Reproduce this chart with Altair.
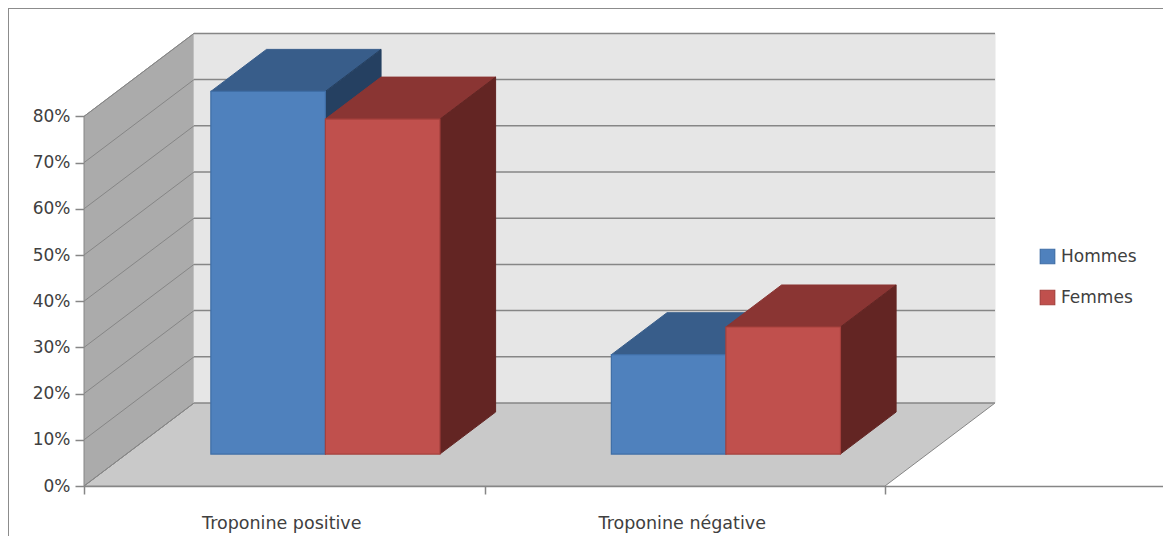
import altair as alt
import pandas as pd

categories = ["Troponine positive", "Troponine négative"]
series = ["Hommes", "Femmes"]
hommes = [78.5, 21.5]
femmes = [72.5, 27.5]
value_ticks = [0, 10, 20, 30, 40, 50, 60, 70, 80]
fills = ["#4f81bd", "#c0504d"]
strokes = ["#3f6ea6", "#a5403d"]
top_fills = ["#385d8a", "#8a3533"]
side_fills = ["#254061", "#632523"]

PX_PER_CAT = 400.5
PX_PER_PCT = 4.62
W, H = 1079, 478
BOTTOM = 50
DEPTH_X = 110 / PX_PER_CAT
DEPTH_Y = 83 / PX_PER_PCT
FRONT, BACK = 0.385, 0.891
BAR_START, BAR_W = 0.211, 0.286
FONT = "DejaVu Sans"
TXT = "#404040"
EDGE = "#868686"

xs = alt.Scale(domain=[0, W / PX_PER_CAT], nice=False, zero=False)
ys = alt.Scale(domain=[0, H / PX_PER_PCT], nice=False, zero=False)

axis_y = alt.Axis(values=value_ticks, labelExpr="datum.value + '%'", grid=False, domain=False,
                  tickColor=EDGE, tickSize=9, tickWidth=1.5, labelFont=FONT, labelFontSize=17,
                  labelColor=TXT, labelPadding=5, title=None)
axis_x = alt.Axis(values=[0, 1, 2], labels=False, grid=False, domainColor=EDGE, domainWidth=1.5,
                  tickColor=EDGE, tickSize=8, tickWidth=1.5, title=None)


def X(c, d=0):
    return c + d * DEPTH_X


def Y(v, d=0):
    return v + d * DEPTH_Y


def xq(f="x"):
    return alt.X(f"{f}:Q", scale=xs, axis=axis_x)


def yq(f="y"):
    return alt.Y(f"{f}:Q", scale=ys, axis=axis_y)


def vface(rows, fill, stroke):
    # parallelogram with vertical sides: rows are (x, y, y2)
    return alt.Chart(pd.DataFrame(rows, columns=["x", "y", "y2"])).mark_area(
        fill=fill, stroke=stroke, strokeWidth=1, opacity=1
    ).encode(x=xq(), y=yq(), y2="y2:Q")


def hface(rows, fill, stroke):
    # parallelogram with horizontal sides: rows are (y, x, x2)
    return alt.Chart(pd.DataFrame(rows, columns=["y", "x", "x2"])).mark_area(
        orient="horizontal", fill=fill, stroke=stroke, strokeWidth=1, opacity=1
    ).encode(y=yq(), x=xq(), x2="x2:Q")


layers = []

top_v = value_ticks[-1]
# floor, left wall, back wall
layers.append(hface([(Y(0, 0), X(0, 0), X(2, 0)), (Y(0, 1), X(0, 1), X(2, 1))], "#c9c9c9", EDGE))
layers.append(vface([(X(0, 0), Y(0, 0), Y(top_v, 0)), (X(0, 1), Y(0, 1), Y(top_v, 1))], "#ababab", EDGE))
layers.append(vface([(X(0, 1), Y(0, 1), Y(top_v, 1)), (X(2, 1), Y(0, 1), Y(top_v, 1))], "#e6e6e6", "#e6e6e6"))

# gridlines on back wall and left wall
grid = pd.DataFrame({"v": value_ticks})
grid["xb0"] = X(0, 1)
grid["xb1"] = X(2, 1)
grid["yb"] = Y(grid["v"], 1)
grid["xl0"] = X(0, 0)
grid["yl0"] = Y(grid["v"], 0)
layers.append(alt.Chart(grid).mark_rule(color=EDGE, strokeWidth=1.5).encode(
    x=xq("xb0"), x2="xb1:Q", y=yq("yb")))
layers.append(alt.Chart(grid).mark_rule(color=EDGE, strokeWidth=1).encode(
    x=xq("xl0"), x2="xb0:Q", y=yq("yl0"), y2="yb:Q"))

# bars
sc_fill = alt.Scale(domain=series, range=fills)
sc_stroke = alt.Scale(domain=series, range=strokes)
for j, (name, vals) in enumerate(zip(series, [hommes, femmes])):
    for i, v in enumerate(vals):
        c0 = i + BAR_START + j * BAR_W
        c1 = c0 + BAR_W
        layers.append(hface([(Y(v, FRONT), X(c0, FRONT), X(c1, FRONT)),
                             (Y(v, BACK), X(c0, BACK), X(c1, BACK))], top_fills[j], top_fills[j]))
        layers.append(vface([(X(c1, FRONT), Y(0, FRONT), Y(v, FRONT)),
                             (X(c1, BACK), Y(0, BACK), Y(v, BACK))], side_fills[j], side_fills[j]))
    front = pd.DataFrame({
        "serie": name,
        "x": [X(i + BAR_START + j * BAR_W, FRONT) for i in range(len(vals))],
        "x2": [X(i + BAR_START + (j + 1) * BAR_W, FRONT) for i in range(len(vals))],
        "y": [Y(0, FRONT)] * len(vals),
        "y2": [Y(v, FRONT) for v in vals],
    })
    layers.append(alt.Chart(front).mark_rect(strokeWidth=1.2).encode(
        x=xq(), x2="x2:Q", y=yq(), y2="y2:Q",
        fill=alt.Fill("serie:N", scale=sc_fill, title=None),
        stroke=alt.Stroke("serie:N", scale=sc_stroke, title=None),
    ))

# category labels
labels = pd.DataFrame({"label": categories, "x": [i + 0.5 for i in range(len(categories))],
                       "y": [-38 / PX_PER_PCT] * len(categories)})
layers.append(alt.Chart(labels).mark_text(font=FONT, fontSize=17.5, color=TXT, dx=-2.5).encode(
    x=xq(), y=yq(), text="label:N"))

# frame
frame_h = pd.DataFrame({"a": [0]})
layers.append(alt.Chart(frame_h).mark_rule(color="#8c8c8c", strokeWidth=2).encode(
    x=alt.value(-76), x2=alt.value(W), y=alt.value(0)))
layers.append(alt.Chart(frame_h).mark_rule(color="#8c8c8c", strokeWidth=2).encode(
    x=alt.value(-76), y=alt.value(0), y2=alt.value(H + BOTTOM)))

chart = alt.layer(*layers).properties(
    width=W, height=H,
    padding={"left": 76, "top": 0, "right": 0, "bottom": BOTTOM},
    autosize=alt.AutoSizeParams(type="none"),
).configure_view(stroke=None).configure_legend(
    orient="none", legendX=955, legendY=240, labelFont=FONT, labelFontSize=17, labelColor=TXT,
    symbolType="square", symbolSize=210, symbolOpacity=1, rowPadding=20, labelOffset=5,
    symbolStrokeWidth=1.2,
)
chart.save("out.html", embed_options={"renderer": "svg", "actions": False})
